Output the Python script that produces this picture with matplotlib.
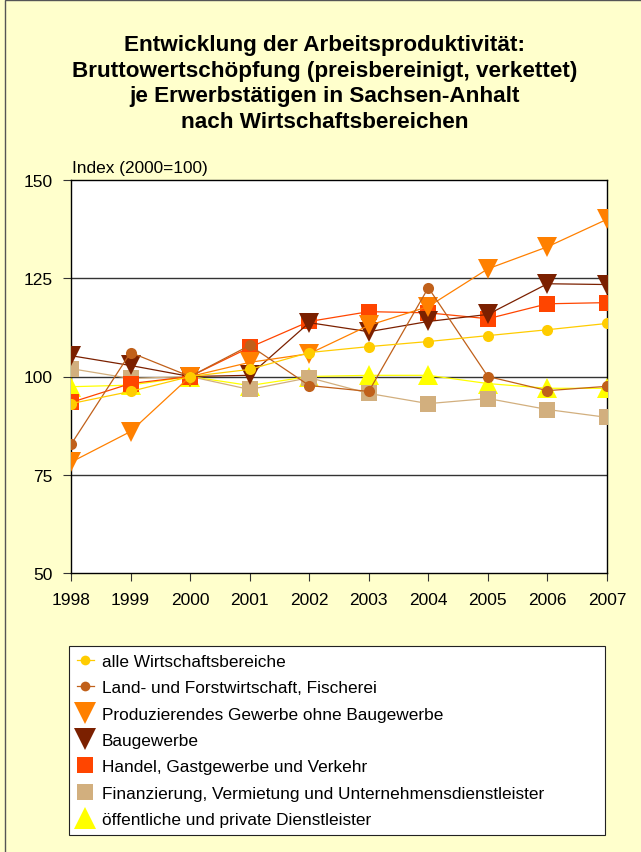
import matplotlib
matplotlib.use("Agg")
import matplotlib.pyplot as plt
from matplotlib.lines import Line2D
from matplotlib.patches import Rectangle

plt.rcParams['font.family'] = ['Liberation Sans', 'DejaVu Sans']

years = [1998, 1999, 2000, 2001, 2002, 2003, 2004, 2005, 2006, 2007]

alle = [93.1, 96.2, 100, 101.8, 106.1, 107.6, 108.9, 110.4, 111.9, 113.5]
land = [82.7, 106.1, 100, 107.9, 97.7, 96.2, 122.6, 100.0, 96.4, 97.5]
prod = [78.2, 86.0, 100, 103.6, 105.8, 113.0, 117.8, 127.4, 133.0, 140.0]
bau = [105.3, 102.8, 100, 100.3, 113.7, 111.4, 114.0, 115.8, 123.6, 123.4]
handel = [93.4, 98.2, 100, 107.4, 114.0, 116.5, 116.2, 114.7, 118.5, 118.8]
finanz = [102.0, 99.5, 100, 96.7, 99.7, 95.7, 93.1, 94.4, 91.6, 89.6]
oeff = [97.4, 97.8, 100, 97.7, 100.0, 100.3, 100.3, 98.2, 97.0, 97.0]

labels = ["alle Wirtschaftsbereiche",
          "Land- und Forstwirtschaft, Fischerei",
          "Produzierendes Gewerbe ohne Baugewerbe",
          "Baugewerbe",
          "Handel, Gastgewerbe und Verkehr",
          "Finanzierung, Vermietung und Unternehmensdienstleister",
          "öffentliche und private Dienstleister"]

series = [alle, land, prod, bau, handel, finanz, oeff]
colors = ["#FFCC00", "#C0601A", "#FF8000", "#7B2000", "#FF4500", "#D2AF7E", "#FFFF00"]
markers = ["o", "o", "v", "v", "s", "s", "^"]
msizes = [8, 8, 14, 14, 12, 12, 14]
leg_msizes = [7, 7, 16, 16, 12, 12, 16]

yticks = [50, 75, 100, 125, 150]

fig = plt.figure(figsize=(6.41, 8.53), dpi=100)
fig.patch.set_facecolor("#FFFFCC")

# outer frame
fig.add_artist(Rectangle((5/641, -0.01), 1.0, 1.0 - 1/853 + 0.01, transform=fig.transFigure,
                         fill=False, edgecolor="#555555", linewidth=1.0))

ax = fig.add_axes([71/641, 1 - 574/853, (607 - 71)/641, (574 - 181)/853])
ax.set_facecolor("white")

n = len(series)
for i, (vals, c, m, ms, lab) in enumerate(zip(series, colors, markers, msizes, labels)):
    ax.plot(years, vals, color=c, linewidth=0.9, marker=m, markersize=ms,
            markeredgewidth=0, markerfacecolor=c, zorder=10 + (n - i), label=lab)

ax.set_xlim(1998, 2007)
ax.set_ylim(50, 150)
ax.set_yticks(yticks)
ax.set_xticks(years)
ax.tick_params(axis='both', labelsize=12.5, direction='out', length=6, width=0.8,
               color="#333333")
ax.tick_params(axis='x', pad=8)
ax.tick_params(axis='y', pad=7)
for y in [75, 100, 125]:
    ax.axhline(y, color="#333333", linewidth=1.0, zorder=1)
for side in ["top", "right", "bottom", "left"]:
    ax.spines[side].set_color("black")
    ax.spines[side].set_linewidth(1.0)

fig.text(72/641, 1 - 168/853, "Index (2000=100)", fontsize=12.4, ha="left", va="center")

title = ("Entwicklung der Arbeitsproduktivität:\n"
         "Bruttowertschöpfung (preisbereinigt, verkettet)\n"
         "je Erwerbstätigen in Sachsen-Anhalt\n"
         "nach Wirtschaftsbereichen")
fig.text(325/641, 1 - 84/853, title, fontsize=16.2, fontweight="bold", ha="center",
         va="center", linespacing=1.28)

handles = []
for c, m, ms, lab in zip(colors, markers, leg_msizes, labels):
    if m == "o":
        h = Line2D([0], [0], color=c, linewidth=0.9, marker=m, markersize=ms,
                   markeredgewidth=0, markerfacecolor=c)
    else:
        h = Line2D([0], [0], color=c, linewidth=0, marker=m, markersize=ms,
                   markeredgewidth=0, markerfacecolor=c)
    handles.append(h)

leg = fig.legend(handles, labels, loc="upper left", mode="expand",
                 bbox_to_anchor=(69/641, 1 - 831/853, (605 - 69)/641, (831 - 647)/853),
                 bbox_transform=fig.transFigure,
                 fontsize=12.4, frameon=True, fancybox=False, edgecolor="#222222",
                 facecolor="white", framealpha=1.0, handlelength=1.0, handletextpad=0.45,
                 labelspacing=0.66, borderpad=0.45, borderaxespad=0)
leg.get_frame().set_linewidth(0.8)

fig.savefig("out.png", dpi=100, facecolor=fig.get_facecolor())
